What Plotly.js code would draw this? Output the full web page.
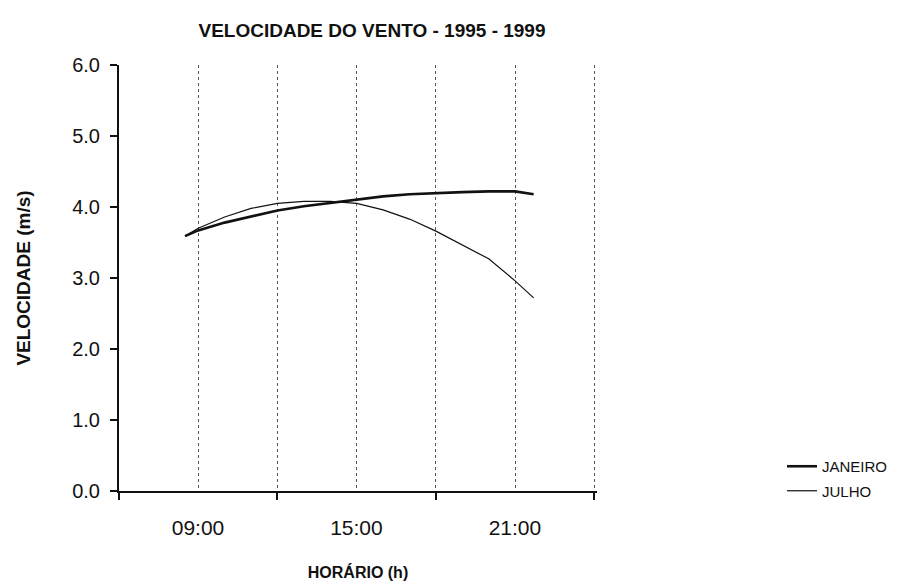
<!DOCTYPE html>
<html>
<head>
<meta charset="utf-8">
<script src="https://cdn.plot.ly/plotly-3.0.1.min.js"></script>
<style>html,body{margin:0;padding:0;background:#fff;}#chart{width:909px;height:582px;}</style>
</head>
<body>
<div id="chart"></div>
<script>
// Hours of the day (h) at which the curves were read
const hours = [8.5, 9, 10, 11, 12, 13, 14, 15, 16, 17, 18, 19, 20, 21, 21.7];
// Wind speed (m/s)
const janeiro = [3.59, 3.67, 3.78, 3.87, 3.95, 4.01, 4.06, 4.11, 4.15, 4.18, 4.20, 4.21, 4.22, 4.22, 4.18];
const julho   = [3.59, 3.70, 3.86, 3.98, 4.05, 4.08, 4.08, 4.05, 3.96, 3.83, 3.66, 3.47, 3.27, 2.96, 2.72];
const tickPositions = [6, 12, 18, 24];
const tickLabels = ['09:00', '15:00', '21:00', ''];
const gridMinor = [9, 15, 21];
const yTicks = [0, 1, 2, 3, 4, 5, 6];

const FONT = 'Liberation Sans, Arial, sans-serif';

const traces = [
  {x: hours, y: janeiro, name: 'JANEIRO', type: 'scatter', mode: 'lines',
   line: {color: '#111', width: 2.6}, legendgroup: 'a'},
  {x: hours, y: julho, name: 'JULHO', type: 'scatter', mode: 'lines',
   line: {color: '#111', width: 1.2}, legendgroup: 'b'}
];

const layout = {
  width: 909, height: 582,
  paper_bgcolor: '#fff', plot_bgcolor: '#fff',
  margin: {l: 119, r: 312, t: 65, b: 91},
  font: {family: FONT, color: '#111'},
  title: {text: '<b>VELOCIDADE DO VENTO - 1995 - 1999</b>', font: {size: 19, family: FONT},
          x: 372/909, xanchor: 'center', xref: 'container', y: 1 - 30/582, yanchor: 'middle', yref: 'container'},
  xaxis: {
    range: [6, 24.1], tickmode: 'array', tickvals: tickPositions, ticktext: tickLabels,
    ticklabelshift: 79, ticklabelstandoff: 10, ticks: 'outside', ticklen: 7, tickwidth: 2, tickcolor: '#111',
    showline: true, linecolor: '#111', linewidth: 2,
    showgrid: true, gridcolor: '#555', griddash: 'dot', gridwidth: 1,
    minor: {tickmode: 'array', tickvals: gridMinor, showgrid: true, gridcolor: '#555', griddash: 'dot', gridwidth: 1, ticks: ''},
    tickfont: {size: 21, family: FONT}, zeroline: false, fixedrange: true,
    title: {text: '<b>HORÁRIO (h)</b>', font: {size: 16, family: FONT}, standoff: 29}
  },
  yaxis: {
    range: [0, 6], tickmode: 'array', tickvals: yTicks, tickformat: '.1f',
    ticks: 'outside', ticklen: 7, tickwidth: 2, tickcolor: '#111', ticklabelstandoff: 6,
    showline: true, linecolor: '#111', linewidth: 2, showgrid: false, zeroline: false,
    tickfont: {size: 20, family: FONT}, fixedrange: true,
    title: {text: '<b>VELOCIDADE (m/s)</b>', font: {size: 19, family: FONT}, standoff: 37}
  },
  showlegend: true,
  legend: {xref: 'container', yref: 'container', x: 782/909, y: 1 - 450/582, xanchor: 'left', yanchor: 'top',
           font: {size: 15, family: FONT}, traceorder: 'grouped', tracegroupgap: 2, bgcolor: 'rgba(0,0,0,0)'}
};

Plotly.newPlot('chart', traces, layout, {displayModeBar: false, staticPlot: true});
</script>
</body>
</html>
